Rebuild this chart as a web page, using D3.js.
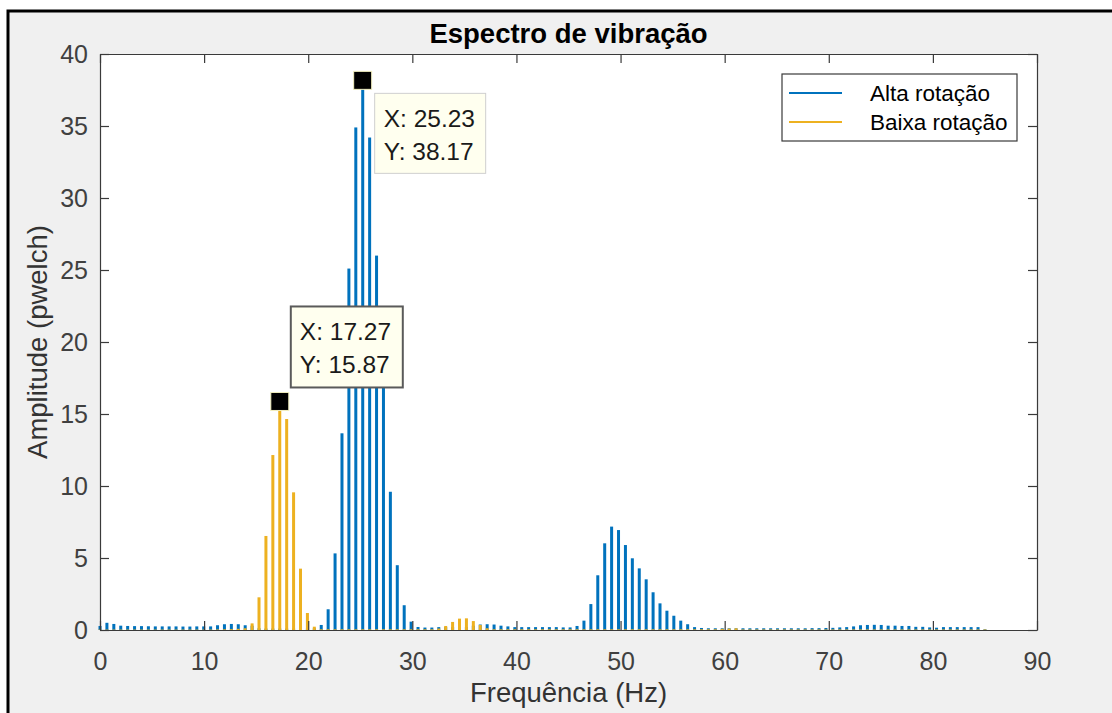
<!DOCTYPE html>
<html>
<head>
<meta charset="utf-8">
<script src="https://cdn.jsdelivr.net/npm/d3@7"></script>
<style>
  html, body { margin: 0; padding: 0; background: #ffffff; }
  svg { display: block; font-family: "Liberation Sans", Arial, Helvetica, sans-serif; }
</style>
</head>
<body>
<svg id="chart" width="1112" height="713"></svg>
<script>
// ---------- DATA ----------
const binWidth = 170 / 256;          // Hz per FFT bin (x grid of both spectra)
const seriesNames = ["Alta rotação", "Baixa rotação"];
const seriesColors = ["#0072BD", "#EDB120"];

const altaRotacao = [
  0.28,0.5,0.42,0.3,0.28,0.27,0.27,0.26,0.25,0.25,
  0.25,0.25,0.24,0.24,0.25,0.25,0.25,0.33,0.4,0.42,
  0.4,0.33,0.3,0.12,0.1,0.1,0.1,0.1,0.1,0.1,
  0.1,0.12,0.35,1.44,5.32,13.66,25.1,34.9,38.17,34.2,
  26.0,19.0,9.6,4.5,1.72,0.58,0.21,0.17,0.17,0.2,
  0.2,0.2,0.2,0.2,0.3,0.38,0.4,0.38,0.3,0.25,
  0.2,0.2,0.2,0.2,0.2,0.2,0.2,0.18,0.18,0.28,
  0.65,1.8,3.8,6.02,7.18,6.94,5.9,4.98,4.28,3.52,
  2.62,1.85,1.34,0.99,0.65,0.4,0.2,0.14,0.12,0.12,
  0.12,0.12,0.12,0.12,0.12,0.12,0.12,0.12,0.12,0.12,
  0.12,0.12,0.12,0.13,0.13,0.14,0.15,0.18,0.2,0.25,
  0.33,0.35,0.36,0.35,0.3,0.3,0.28,0.28,0.22,0.22,
  0.18,0.16,0.2,0.2,0.2,0.2,0.2,0.2,0.05
];

const baixaRotacao = [
  0.03,0.03,0.03,0.03,0.03,0.03,0.03,0.03,0.03,0.03,
  0.03,0.03,0.03,0.03,0.03,0.03,0.03,0.04,0.05,0.06,
  0.08,0.12,0.46,2.27,6.53,12.15,15.87,14.65,9.56,4.26,
  1.18,0.23,0.05,0.05,0.05,0.05,0.05,0.05,0.05,0.05,
  0.05,0.05,0.05,0.05,0.05,0.05,0.05,0.05,0.05,0.1,
  0.28,0.56,0.79,0.81,0.62,0.35,0.12,0.05,0.05,0.05,
  0.05,0.05,0.05,0.05,0.05,0.05,0.05,0.05,0.05,0.05,
  0.05,0.05,0.05,0.05,0.05,0.05,0.05,0.05,0.05,0.05,
  0.05,0.05,0.05,0.05,0.05,0.05,0.05,0.05,0.05,0.05,
  0.08,0.1,0.12,0.04,0.04,0.04,0.04,0.04,0.04,0.04,
  0.04,0.04,0.04,0.04,0.04,0.04,0.04,0.04,0.04,0.04,
  0.04,0.04,0.04,0.04,0.04,0.04,0.04,0.04,0.04,0.04,
  0.04,0.04,0.04,0.04,0.04,0.04,0.04,0.04,0.04
];

const xTicks = [0,10,20,30,40,50,60,70,80,90];
const yTicks = [0,5,10,15,20,25,30,35,40];

const dataTips = [
  { series: 0, x: 25.23, y: 38.17, xLabel: "X: 25.23", yLabel: "Y: 38.17" },
  { series: 1, x: 17.27, y: 15.87, xLabel: "X: 17.27", yLabel: "Y: 15.87" }
];

const titleText = "Espectro de vibração";
const xLabelText = "Frequência (Hz)";
const yLabelText = "Amplitude (pwelch)";

// ---------- LAYOUT ----------
const svg = d3.select("#chart");
const plot = { left: 100, right: 1037, top: 54, bottom: 630 };
const x = d3.scaleLinear().domain([0, 90]).range([plot.left, plot.right]);
const y = d3.scaleLinear().domain([0, 40]).range([plot.bottom, plot.top]);
const axisColor = "#3a3a3a";
const tickFont = 25;

// figure frame
svg.append("rect").attr("x", 8).attr("y", 11).attr("width", 1200).attr("height", 800)
  .attr("fill", "#f0f0f0").attr("stroke", "#000").attr("stroke-width", 3);

// axes background
svg.append("rect").attr("x", plot.left).attr("y", plot.top)
  .attr("width", plot.right - plot.left).attr("height", plot.bottom - plot.top)
  .attr("fill", "#ffffff");

// bars
const barW = 3;
const allSeries = [altaRotacao, baixaRotacao];
allSeries.forEach((vals, si) => {
  svg.append("g").selectAll("rect").data(vals).join("rect")
    .attr("x", (d, k) => x(k * binWidth) - barW / 2)
    .attr("y", d => y(d))
    .attr("width", barW)
    .attr("height", d => y(0) - y(d))
    .attr("fill", seriesColors[si]);
});

// axes (ticks inward on all four sides)
function styleAxis(g, labels) {
  g.selectAll("path").attr("stroke", axisColor).attr("stroke-width", 1.2);
  g.selectAll("line").attr("stroke", axisColor).attr("stroke-width", 1.2);
  g.selectAll("text").attr("fill", "#404040").attr("font-size", tickFont)
    .attr("font-family", "'Liberation Sans', Arial, sans-serif");
  if (!labels) g.selectAll("text").remove();
}
svg.append("g").attr("transform", `translate(0,${plot.bottom})`)
  .call(d3.axisBottom(x).tickValues(xTicks).tickFormat(d3.format("d"))
    .tickSizeInner(-9).tickSizeOuter(0).tickPadding(22))
  .call(g => styleAxis(g, true));
svg.append("g").attr("transform", `translate(0,${plot.top})`)
  .call(d3.axisTop(x).tickValues(xTicks).tickSizeInner(-9).tickSizeOuter(0))
  .call(g => styleAxis(g, false));
svg.append("g").attr("transform", `translate(${plot.left},0)`)
  .call(d3.axisLeft(y).tickValues(yTicks).tickFormat(d3.format("d"))
    .tickSizeInner(-9).tickSizeOuter(0).tickPadding(12))
  .call(g => styleAxis(g, true));
svg.append("g").attr("transform", `translate(${plot.right},0)`)
  .call(d3.axisRight(y).tickValues(yTicks).tickSizeInner(-9).tickSizeOuter(0))
  .call(g => styleAxis(g, false));

// title & labels
svg.append("text").attr("x", (plot.left + plot.right) / 2).attr("y", 43)
  .attr("text-anchor", "middle").attr("font-size", 27.5).attr("font-weight", "bold")
  .attr("fill", "#000").text(titleText);
svg.append("text").attr("x", (plot.left + plot.right) / 2).attr("y", 702)
  .attr("text-anchor", "middle").attr("font-size", 27.5).attr("fill", "#333333")
  .text(xLabelText);
svg.append("text").attr("transform", `translate(47,${(plot.top + plot.bottom) / 2}) rotate(-90)`)
  .attr("text-anchor", "middle").attr("font-size", 27.5).attr("fill", "#333333")
  .text(yLabelText);

// legend
const leg = svg.append("g");
leg.append("rect").attr("x", 782).attr("y", 74).attr("width", 235).attr("height", 67)
  .attr("fill", "#fff").attr("stroke", axisColor).attr("stroke-width", 1.2);
seriesNames.forEach((name, i) => {
  const cy = 93 + i * 29;
  leg.append("line").attr("x1", 789).attr("x2", 842).attr("y1", cy).attr("y2", cy)
    .attr("stroke", seriesColors[i]).attr("stroke-width", 2.2);
  leg.append("text").attr("x", 870).attr("y", cy + 8).attr("font-size", 22.5)
    .attr("fill", "#000").text(name);
});

// data tips
const tipStyles = [
  { dx: 12, dy: 13, w: 111, h: 80, stroke: "#cfcfcf", sw: 1, below: true },
  { dx: 11, dy: -14, w: 112, h: 81, stroke: "#5a5a5a", sw: 2, below: false }
];
dataTips.forEach((t, i) => {
  const px = x(t.x), py = y(t.y), st = tipStyles[i];
  const bx = px + st.dx;
  const by = st.below ? py + st.dy : py + st.dy - st.h;
  svg.append("rect").attr("x", bx).attr("y", by).attr("width", st.w).attr("height", st.h)
    .attr("fill", "#ffffef").attr("stroke", st.stroke).attr("stroke-width", st.sw);
  svg.append("text").attr("x", bx + 9).attr("y", by + 34).attr("font-size", 24.5)
    .attr("fill", "#1a1a1a").text(t.xLabel);
  svg.append("text").attr("x", bx + 9).attr("y", by + 67).attr("font-size", 24.5)
    .attr("fill", "#1a1a1a").text(t.yLabel);
  svg.append("rect").attr("x", px - 9).attr("y", py - 9).attr("width", 18).attr("height", 18)
    .attr("fill", "#000").attr("stroke", "#f3f0c0").attr("stroke-width", 1);
});
</script>
</body>
</html>
